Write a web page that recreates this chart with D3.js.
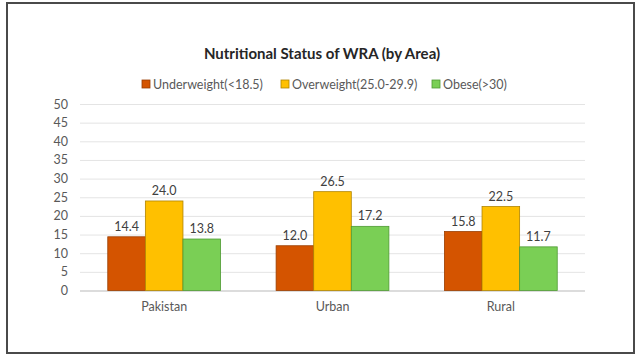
<!DOCTYPE html>
<html>
<head>
<meta charset="utf-8">
<script src="https://cdn.jsdelivr.net/npm/d3@7"></script>
<style>
  body { margin: 0; background: #fff; }
  text { font-family: Lato, "Open Sans", sans-serif; }
</style>
</head>
<body>
<div class="chart"></div>
<script>
var areas = ["Pakistan", "Urban", "Rural"];
var seriesNames = ["Underweight(<18.5)", "Overweight(25.0-29.9)", "Obese(>30)"];
var underweight = [14.4, 12.0, 15.8];
var overweight = [24.0, 26.5, 22.5];
var obese = [13.8, 17.2, 11.7];
var yTicks = [0, 5, 10, 15, 20, 25, 30, 35, 40, 45, 50];

var colors = ["#d45400", "#ffc000", "#7acf55"];
var strokes = ["#9a3d00", "#b08400", "#4f9a33"];

var svgWidth = 640;
var svgHeight = 360;

var svg = d3.select(".chart")
  .append("svg")
  .attr("width", svgWidth)
  .attr("height", svgHeight);

// outer frame
svg.append("rect")
  .attr("x", 7)
  .attr("y", 3)
  .attr("width", 627)
  .attr("height", 350)
  .attr("fill", "#fff")
  .attr("stroke", "#4a4a4a")
  .attr("stroke-width", 2);

var plot = { left: 80, right: 585, top: 104, bottom: 290.5 };

var x0 = d3.scaleBand()
  .domain(areas)
  .range([plot.left, plot.right])
  .paddingInner(0.33)
  .paddingOuter(0.165);

var x1 = d3.scaleBand()
  .domain(seriesNames)
  .range([0, x0.bandwidth()]);

var y = d3.scaleLinear()
  .domain([0, 50])
  .range([plot.bottom, plot.top]);

// gridlines
var yAxis = d3.axisLeft(y)
  .tickValues(yTicks)
  .tickSize(-(plot.right - plot.left))
  .tickPadding(12);

var gy = svg.append("g")
  .attr("transform", `translate(${plot.left}, 0)`)
  .call(yAxis);
gy.select(".domain").remove();
gy.selectAll(".tick line")
  .attr("stroke", d => d === 0 ? "#d0d0d0" : "#e4e4e4")
  .attr("stroke-width", d => d === 0 ? 1.5 : 1);
gy.selectAll(".tick text")
  .attr("fill", "#595959")
  .style("font-size", "12.5px");

// x axis labels
var xAxis = d3.axisBottom(x0).tickSize(0).tickPadding(12);
var gx = svg.append("g")
  .attr("transform", `translate(0, ${plot.bottom})`)
  .call(xAxis);
gx.select(".domain").remove();
gx.selectAll(".tick text")
  .attr("fill", "#595959")
  .style("font-size", "12.5px");

var series = [underweight, overweight, obese];

areas.forEach(function(area, i) {
  var g = svg.append("g")
    .attr("transform", `translate(${x0(area)}, 0)`);

  series.forEach(function(vals, j) {
    g.append("rect")
      .attr("x", x1(seriesNames[j]))
      .attr("y", y(vals[i]))
      .attr("width", x1.bandwidth())
      .attr("height", y(0) - y(vals[i]))
      .attr("fill", colors[j])
      .attr("stroke", strokes[j])
      .attr("stroke-width", 0.8);

    g.append("text")
      .attr("x", x1(seriesNames[j]) + x1.bandwidth() / 2)
      .attr("y", y(vals[i]) - 6)
      .attr("text-anchor", "middle")
      .attr("fill", "#404040")
      .style("font-size", "12.5px")
      .text(vals[i].toFixed(1));
  });
});

// title
svg.append("text")
  .attr("x", 322)
  .attr("y", 59)
  .attr("text-anchor", "middle")
  .attr("fill", "#262626")
  .style("font-size", "15px")
  .style("font-weight", "bold")
  .text("Nutritional Status of WRA (by Area)");

// legend
var legendX = [142, 281, 432];
seriesNames.forEach(function(name, j) {
  svg.append("rect")
    .attr("x", legendX[j])
    .attr("y", 80)
    .attr("width", 8)
    .attr("height", 8)
    .attr("fill", colors[j])
    .attr("stroke", strokes[j])
    .attr("stroke-width", 0.8);
  svg.append("text")
    .attr("x", legendX[j] + 11)
    .attr("y", 88.5)
    .attr("fill", "#595959")
    .style("font-size", "12.5px")
    .text(name);
});
</script>
</body>
</html>
